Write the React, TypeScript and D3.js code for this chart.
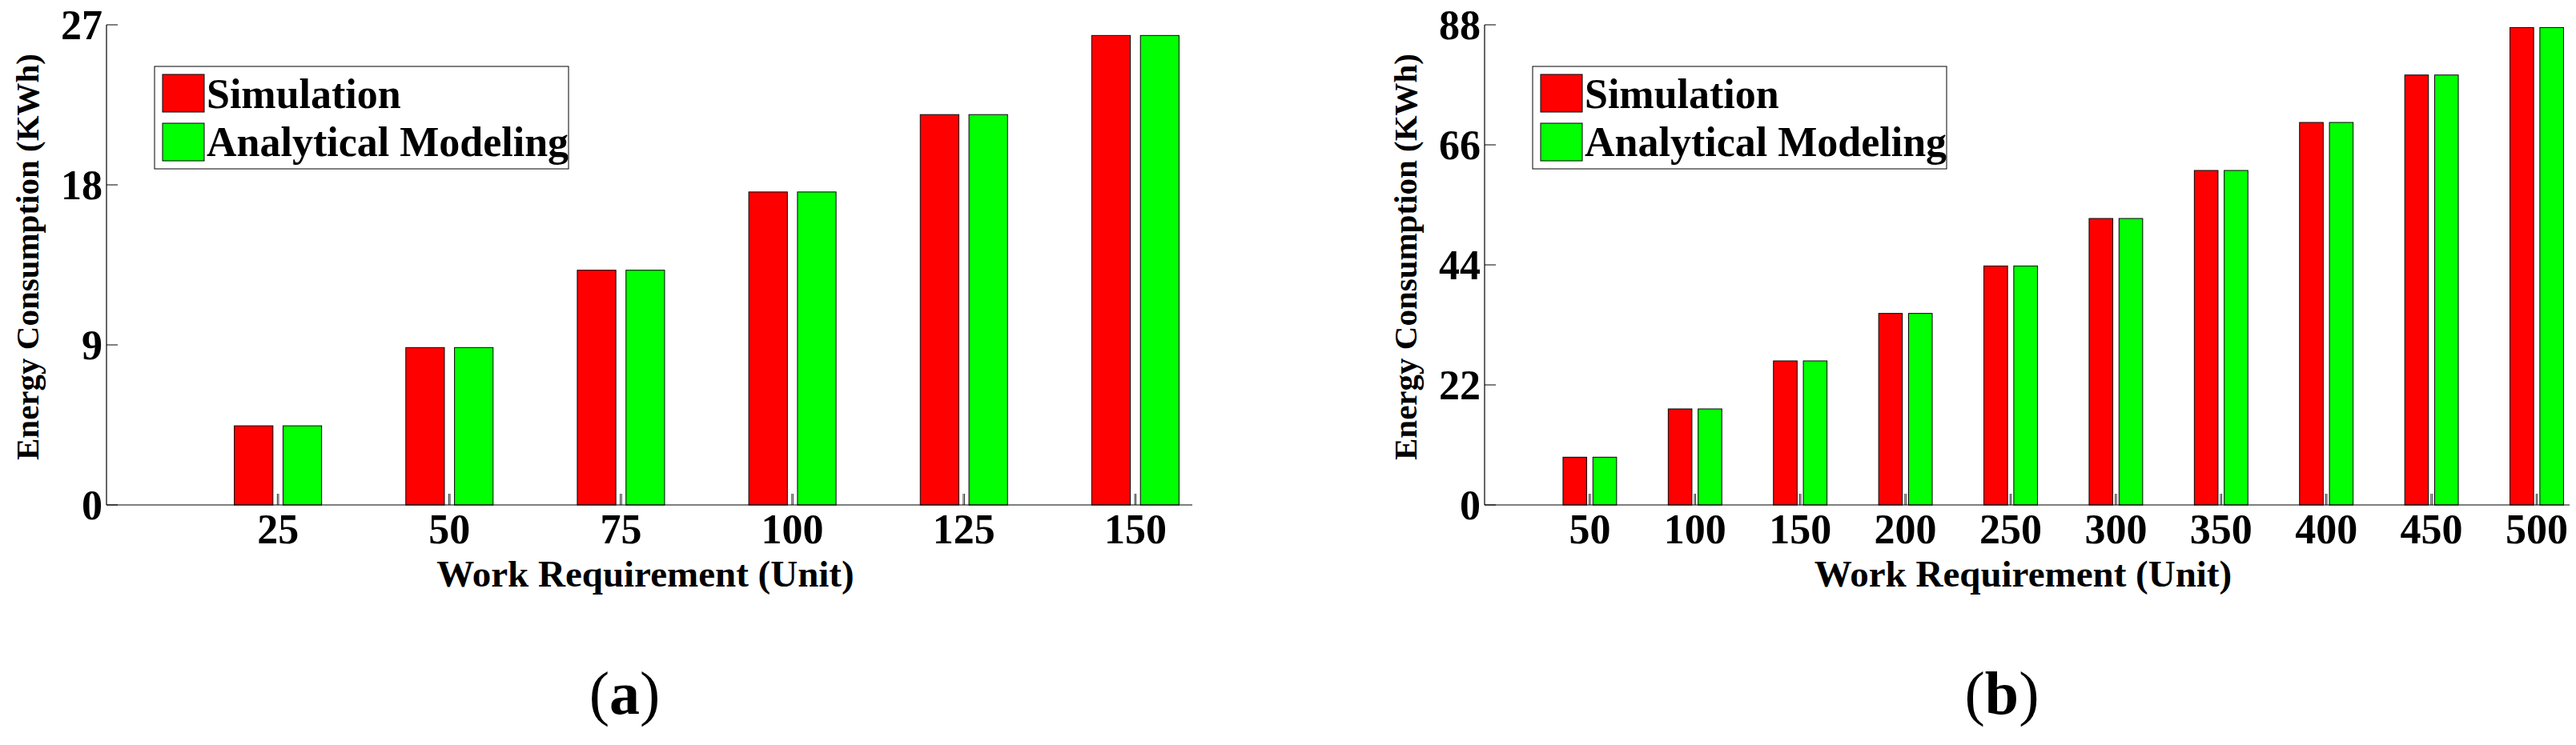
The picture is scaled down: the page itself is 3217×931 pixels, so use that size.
import * as d3 from "d3";
import { useEffect } from "react";

// panel (a)
const workA = [25, 50, 75, 100, 125, 150];
const simA = [4.45, 8.85, 13.2, 17.6, 21.95, 26.4];
const anaA = [4.45, 8.85, 13.2, 17.6, 21.95, 26.4];
const yTicksA = [0, 9, 18, 27];

// panel (b)
const workB = [50, 100, 150, 200, 250, 300, 350, 400, 450, 500];
const simB = [8.75, 17.6, 26.4, 35.1, 43.8, 52.5, 61.3, 70.1, 78.8, 87.5];
const anaB = [8.75, 17.6, 26.4, 35.1, 43.8, 52.5, 61.3, 70.1, 78.8, 87.5];
const yTicksB = [0, 22, 44, 66, 88];

const seriesNames = ["Simulation", "Analytical Modeling"];
const seriesColors = ["#ff0000", "#00ff00"];

const FONT = "'Liberation Serif', 'Times New Roman', serif";

interface PanelProps {
    work: number[];
    sim: number[];
    ana: number[];
    yTicks: number[];
    xMax: number;
    step: number;
    left: number;
    right: number;
    caption: string;
    captionX: number;
}

const TOP = 31;
const BOTTOM = 631;

const Panel: React.FC<PanelProps> = ({ work, sim, ana, yTicks, xMax, step, left, right, caption, captionX }) => {
    const x = d3.scaleLinear().domain([0, xMax]).range([left, right]);
    const y = d3.scaleLinear().domain([0, d3.max(yTicks) || 0]).range([BOTTOM, TOP]);

    const stepPx = x(step) - x(0);
    const barW = stepPx * 0.225;
    const off = stepPx * 0.142;

    const legendX = left + 60;
    const legendY = 83;

    return (
        <g>
            {/* bars */}
            {work.map((w, i) => (
                <g key={w}>
                    <rect x={x(w) - off - barW / 2} y={y(sim[i])} width={barW} height={y(0) - y(sim[i])}
                        fill={seriesColors[0]} stroke="#000" strokeWidth={1} />
                    <rect x={x(w) + off - barW / 2} y={y(ana[i])} width={barW} height={y(0) - y(ana[i])}
                        fill={seriesColors[1]} stroke="#000" strokeWidth={1} />
                    <line x1={x(w) - 0.8} x2={x(w) - 0.8} y1={BOTTOM} y2={BOTTOM - 14} stroke="#000" strokeWidth={0.8} />
                    <line x1={x(w) + 0.8} x2={x(w) + 0.8} y1={BOTTOM} y2={BOTTOM - 14} stroke="#000" strokeWidth={0.8} />
                    <text x={x(w)} y={679} textAnchor="middle" fontSize={52} fontWeight="bold" fontFamily={FONT}>{w}</text>
                </g>
            ))}

            {/* axes */}
            <line x1={left} x2={left} y1={TOP} y2={BOTTOM} stroke="#000" strokeWidth={1.2} />
            <line x1={left} x2={right} y1={BOTTOM} y2={BOTTOM} stroke="#000" strokeWidth={1.2} />
            {yTicks.map((t) => (
                <g key={t}>
                    <line x1={left} x2={left + 14} y1={y(t)} y2={y(t)} stroke="#000" strokeWidth={1} />
                    <text x={left - 5} y={y(t) + 18} textAnchor="end" fontSize={52} fontWeight="bold" fontFamily={FONT}>{t}</text>
                </g>
            ))}

            {/* axis labels */}
            <text x={(left + right) / 2 - 5} y={733} textAnchor="middle" fontSize={47} fontWeight="bold" fontFamily={FONT}>
                Work Requirement (Unit)
            </text>
            <text transform={`translate(${left - 85},${321}) rotate(-90)`} textAnchor="middle" fontSize={41}
                fontWeight="bold" fontFamily={FONT}>
                Energy Consumption (KWh)
            </text>

            {/* legend */}
            <rect x={legendX} y={legendY} width={517} height={128} fill="#fff" stroke="#000" strokeWidth={1} />
            {seriesNames.map((name, i) => (
                <g key={name}>
                    <rect x={legendX + 10} y={legendY + 10 + i * 61} width={52} height={47}
                        fill={seriesColors[i]} stroke="#000" strokeWidth={1} />
                    <text x={legendX + 65} y={legendY + 52 + i * 60} fontSize={52} fontWeight="bold" fontFamily={FONT}>{name}</text>
                </g>
            ))}

            {/* sub-figure caption */}
            <text x={captionX} y={892} textAnchor="middle" fontSize={76} fontFamily={FONT}>
                (<tspan fontWeight="bold">{caption}</tspan>)
            </text>
        </g>
    );
};

export default function App() {
    useEffect(() => {
        document.body.style.margin = "0";
    }, []);

    return (
        <svg width={3217} height={931} style={{ display: "block", background: "#fff" }}>
            <rect width={3217} height={931} fill="#fff" />
            <Panel work={workA} sim={simA} ana={anaA} yTicks={yTicksA} xMax={158.3} step={25}
                left={133} right={1489} caption="a" captionX={780} />
            <Panel work={workB} sim={simB} ana={anaB} yTicks={yTicksB} xMax={515.6} step={50}
                left={1854} right={3209} caption="b" captionX={2500} />
        </svg>
    );
}
